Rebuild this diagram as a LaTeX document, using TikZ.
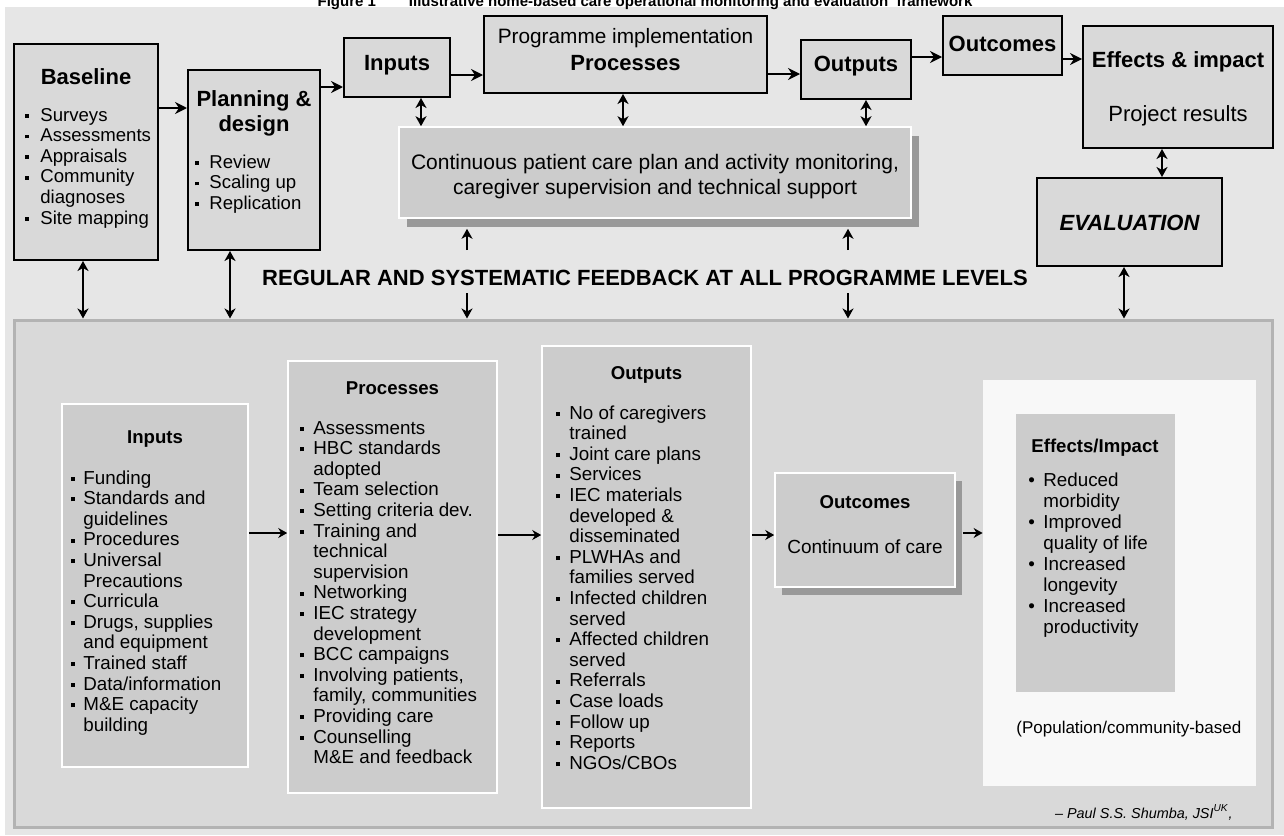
\documentclass[tikz,border=0pt]{standalone}
\usepackage{fontspec}
\setmainfont{Liberation Sans}
\usetikzlibrary{arrows.meta,fit,shadows}
\definecolor{backdrop}{RGB}{230,230,230}
\definecolor{boxgray}{RGB}{217,217,217}
\definecolor{panel}{RGB}{217,217,217}
\definecolor{panelrim}{RGB}{179,179,179}
\definecolor{cellgray}{RGB}{204,204,204}
\definecolor{shade}{RGB}{153,153,153}
\definecolor{paper}{RGB}{248,248,248}
\newcommand{\sqb}{\rule[0.17em]{0.21em}{0.21em}}
\newcommand{\blist}[2]{\begin{tabular}[t]{@{}p{#1}@{}l@{}}#2\end{tabular}}
\tikzset{
  >={Stealth[length=6pt,width=6pt,inset=2pt]},
  topbox/.style={draw=black,line width=1pt,fill=boxgray,inner sep=0pt},
  cell/.style={draw=white,line width=0.8pt,fill=cellgray,inner sep=0pt},
  cell shadow/.style={drop shadow={shadow xshift=#1,shadow yshift=-#1-0.5pt,fill=shade,opacity=1}},
  head/.style={font=\fontsize{11}{12.5}\selectfont\bfseries,inner sep=0pt,anchor=base},
  note/.style={font=\fontsize{10.4}{12.5}\selectfont,inner sep=0pt,anchor=base},
  items/.style={font=\fontsize{9.3}{10.3}\selectfont,inner sep=0pt,anchor=base west},
  subhead/.style={font=\fontsize{9.3}{10.3}\selectfont\bfseries,inner sep=0pt,anchor=base},
  subitems/.style={font=\fontsize{9.4}{10.3}\selectfont,inner sep=0pt,anchor=base west},
  flow/.style={->,line width=1.1pt},
  link/.style={<->,line width=1pt,>={Stealth[length=5pt,width=5.5pt,inset=1.5pt]}},
  lift/.style={->,line width=1pt,>={Stealth[length=5pt,width=5.5pt,inset=1.5pt]}},
  thin flow/.style={->,line width=0.8pt,>={Stealth[length=4.5pt,width=5pt,inset=1.5pt]}},
}

\begin{document}
\begin{tikzpicture}[x=0.5pt,y=-0.5pt]
  \useasboundingbox (0,0) rectangle (1284,835);
  \fill[backdrop] (5,7) rectangle (1284,835);
  \node[font=\fontsize{7.5}{9}\selectfont\bfseries,anchor=base,inner sep=0pt] (fig) at (645,6)
    {Figure 1\hspace{2.2em}Illustrative home-based care operational monitoring and evaluation\ \ framework};

  % top row
  \node[topbox,fit={(14,44) (158,260)}] (base) {};
  \node[topbox,fit={(188,70) (320,250)}] (plan) {};
  \node[topbox,fit={(344,38) (450,97)}] (inp) {};
  \node[topbox,fit={(484,16) (767,93)}] (prog) {};
  \node[topbox,fit={(801,40) (911,99)}] (outp) {};
  \node[topbox,fit={(943,16) (1062,75)}] (outc) {};
  \node[topbox,fit={(1083,26) (1273,148)}] (eff) {};
  \node[topbox,fit={(1037,178) (1222,266)}] (eval) {};
  \node[cell,cell shadow=4pt,fit={(399,127) (911,218)}] (cont) {};

  \node[head] at (86,84) {Baseline};
  \node[items] at (25,121) {\blist{7.5pt}{\sqb & Surveys\\ \sqb & Assessments\\ \sqb & Appraisals\\
    \sqb & Community\\ & diagnoses\\ \sqb & Site mapping}};
  \node[head] at (254,106) {\begin{tabular}[t]{@{}c@{}}Planning \&\\design\end{tabular}};
  \node[items] at (195,168) {\blist{7pt}{\sqb & Review\\ \sqb & Scaling up\\ \sqb & Replication}};
  \node[head] at (397,70) {Inputs};
  \node[note] at (625.5,43) {Programme implementation};
  \node[head] at (625.5,70) {Processes};
  \node[head] at (856,71) {Outputs};
  \node[head] at (1002.5,51) {Outcomes};
  \node[head] at (1178,67) {Effects \& impact};
  \node[note,font=\fontsize{11}{13}\selectfont] at (1178,121) {Project results};
  \node[head,font=\fontsize{11}{13}\selectfont\bfseries\itshape] at (1129.5,230) {EVALUATION};
  \node[note,font=\fontsize{10.5}{12.5}\selectfont] at (655,169.5)
    {\begin{tabular}[t]{@{}c@{}}Continuous patient care plan and activity monitoring,\\
    caregiver supervision and technical support\end{tabular}};

  \node[head] (fb) at (645,285) {REGULAR AND SYSTEMATIC FEEDBACK AT ALL PROGRAMME LEVELS};
  \coordinate (fbA) at (467,250);
  \coordinate (fbB) at (848,250);
  \coordinate (fbC) at (467,293);
  \coordinate (fbD) at (848,293);

  % bottom panel
  \node[fill=panel,draw=panelrim,line width=1.5pt,inner sep=0pt,fit={(14,320) (1272,827)}] (panel) {};
  \node[cell,fit={(62,404) (248,767)}] (binp) {};
  \node[cell,fit={(288,361) (497,793)}] (bproc) {};
  \node[cell,fit={(542,346) (751,808)}] (boutp) {};
  \node[cell,cell shadow=3.5pt,fit={(775,473) (955,587)}] (boutc) {};
  \node[fill=paper,inner sep=0pt,fit={(983,380) (1256,786)}] (zone) {};
  \node[fill=cellgray,inner sep=0pt,fit={(1016,414) (1175,692)}] (bimp) {};

  \node[subhead] at (155,443.5) {Inputs};
  \node[subitems] at (71,484) {\blist{6pt}{\sqb & Funding\\ \sqb & Standards and\\ & guidelines\\
    \sqb & Procedures\\ \sqb & Universal\\ & Precautions\\ \sqb & Curricula\\
    \sqb & Drugs, supplies\\ & and equipment\\ \sqb & Trained staff\\ \sqb & Data/information\\
    \sqb & M\&E capacity\\ & building}};
  \node[subhead] at (392.5,394) {Processes};
  \node[subitems] at (300,434) {\blist{6.5pt}{\sqb & Assessments\\ \sqb & HBC standards\\ & adopted\\
    \sqb & Team selection\\ \sqb & Setting criteria dev.\\ \sqb & Training and\\ & technical\\
    & supervision\\ \sqb & Networking\\ \sqb & IEC strategy\\ & development\\ \sqb & BCC campaigns\\
    \sqb & Involving patients,\\ & family, communities\\ \sqb & Providing care\\
    \sqb & Counselling\\ & M\&E and feedback}};
  \node[subhead] at (646.5,379) {Outputs};
  \node[subitems] at (556,419) {\blist{6.5pt}{\sqb & No of caregivers\\ & trained\\ \sqb & Joint care plans\\
    \sqb & Services\\ \sqb & IEC materials\\ & developed \&\\ & disseminated\\ \sqb & PLWHAs and\\
    & families served\\ \sqb & Infected children\\ & served\\ \sqb & Affected children\\ & served\\
    \sqb & Referrals\\ \sqb & Case loads\\ \sqb & Follow up\\ \sqb & Reports\\ \sqb & NGOs/CBOs}};
  \node[subhead] at (865,508) {Outcomes};
  \node[note,font=\fontsize{9.5}{11}\selectfont] at (865,553) {Continuum of care};
  \node[subhead] at (1095,452) {Effects/Impact};
  \node[subitems,font=\fontsize{9.4}{10.5}\selectfont] at (1028,486) {\blist{7.5pt}{\textbullet & Reduced\\
    & morbidity\\ \textbullet & Improved\\ & quality of life\\ \textbullet & Increased\\ & longevity\\
    \textbullet & Increased\\ & productivity}};
  \node[subitems,font=\fontsize{8.5}{10}\selectfont] at (1016,733) {(Population/community-based};
  \node[font=\fontsize{7.2}{9}\selectfont\itshape,inner sep=0pt,anchor=base east] at (1233,818)
    {– Paul S.S. Shumba, JSI\textsuperscript{UK},};

  % connectors, top
  \draw[flow] (base.east |- 0,108) -- (plan.west |- 0,108);
  \draw[flow] (plan.east |- 0,87) -- (inp.west |- 0,87);
  \draw[flow] (inp.east |- 0,75) -- (prog.west |- 0,75);
  \draw[flow] (prog.east |- 0,74) -- (outp.west |- 0,74);
  \draw[flow] (outp.east |- 0,57) -- (outc.west |- 0,57);
  \draw[flow] (outc.east |- 0,59) -- (eff.west |- 0,59);
  \draw[link] (inp.south -| 421,0) -- (cont.north -| 421,0);
  \draw[link] (prog.south -| 623,0) -- (cont.north -| 623,0);
  \draw[link] (outp.south -| 866,0) -- (cont.north -| 866,0);
  \draw[link] (eff.south -| 1162,0) -- (eval.north -| 1162,0);
  \draw[link] (base.south -| 83,0) -- (panel.north -| 83,0);
  \draw[link] (plan.south -| 230,0) -- (panel.north -| 230,0);
  \draw[link] (eval.south -| 1124,0) -- (panel.north -| 1124,0);
  \draw[lift,shorten >=5pt] (fbA) -- (cont.south -| fbA);
  \draw[lift,shorten >=5pt] (fbB) -- (cont.south -| fbB);
  \draw[lift] (fbC) -- (panel.north -| fbC);
  \draw[lift] (fbD) -- (panel.north -| fbD);

  % connectors, bottom
  \draw[thin flow] (binp.east |- 0,533) -- (bproc.west |- 0,533);
  \draw[thin flow] (bproc.east |- 0,535) -- (boutp.west |- 0,535);
  \draw[thin flow] (boutp.east |- 0,535) -- (boutc.west |- 0,535);
  \draw[thin flow,shorten <=3.5pt] (boutc.east |- 0,533) -- (zone.west |- 0,533);
\end{tikzpicture}
\end{document}
